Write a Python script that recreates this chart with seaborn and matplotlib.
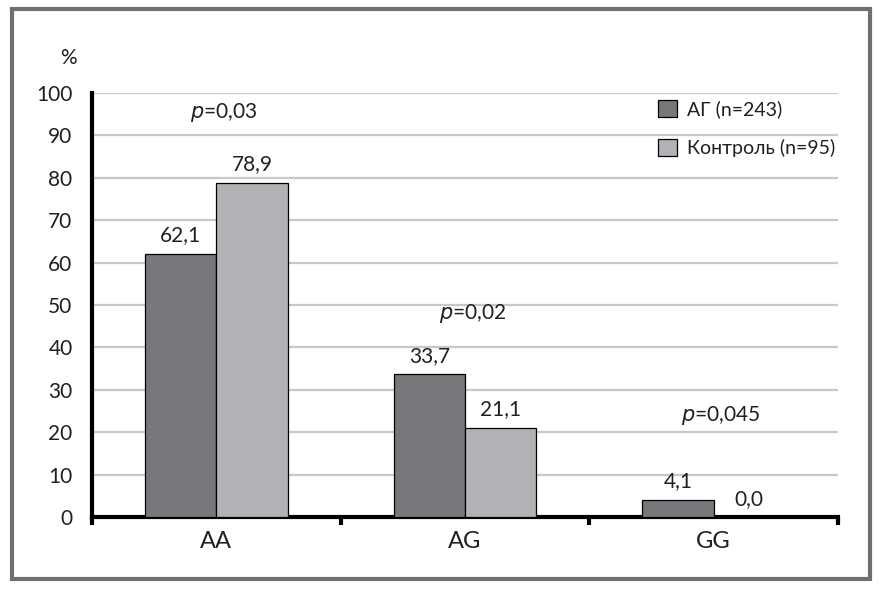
import numpy as np
import pandas as pd
import seaborn as sns
import matplotlib.pyplot as plt
from matplotlib.patches import Rectangle

# data
genotypes = ["AA", "AG", "GG"]
ag_vals = [62.1, 33.7, 4.1]
ctrl_vals = [78.9, 21.1, 0.0]
groups = ["АГ (n=243)", "Контроль (n=95)"]
p_texts = ["0,03", "0,02", "0,045"]
p_y = [95.5, 48, 24]

df = pd.DataFrame({
    "genotype": genotypes * 2,
    "group": [groups[0]] * 3 + [groups[1]] * 3,
    "value": ag_vals + ctrl_vals,
})

sns.set_style("white")
plt.rcParams["font.family"] = ["Lato", "DejaVu Sans"]
txt_col = "#231f20"

fig = plt.figure(figsize=(8.81, 5.89), dpi=100)
ax = fig.add_axes([0.1044, 0.1222, 0.8468, 0.7198])

sns.barplot(data=df, x="genotype", y="value", hue="group",
            palette=["#77787b", "#b1b2b5"], width=0.573,
            edgecolor="black", linewidth=0.9, ax=ax, zorder=3)

for cont in ax.containers:
    labs = [f"{v:.1f}".replace(".", ",") for v in cont.datavalues]
    ax.bar_label(cont, labels=labs, padding=6, fontsize=15, color=txt_col)

for i, (pt, py) in enumerate(zip(p_texts, p_y)):
    ax.text(i + 0.03, py, f"$\\it{{p}}$=" + pt, ha="center", va="center",
            fontsize=15, color=txt_col)

ax.set_ylim(0, 100)
ax.set_xlim(-0.5, 2.5)
ax.set_yticks(np.arange(0, 101, 10))
ax.yaxis.grid(True, color="#c8c8c8", linewidth=1.6, zorder=0)
ax.set_axisbelow(True)
ax.set_xlabel("")
ax.set_ylabel("")
ax.tick_params(axis="y", length=0, labelsize=15, labelcolor=txt_col, pad=14)
ax.tick_params(axis="x", which="major", length=0, labelsize=17,
               labelcolor=txt_col, pad=10)
ax.set_xticks([-0.5, 0.5, 1.5, 2.5], minor=True)
ax.tick_params(axis="x", which="minor", bottom=True, direction="out",
               length=6, width=3, color="black")

sns.despine(ax=ax)
for s in ["left", "bottom"]:
    ax.spines[s].set_linewidth(3)
    ax.spines[s].set_color("black")

ax.text(-0.032, 1.06, "%", transform=ax.transAxes, ha="center",
        va="bottom", fontsize=15, color=txt_col)

leg = ax.legend(loc="upper right", bbox_to_anchor=(1.02, 1.025), frameon=False,
                fontsize=14, handlelength=1.0, handleheight=1.0,
                labelspacing=1.05, handletextpad=0.5)
for t in leg.get_texts():
    t.set_color(txt_col)

fig.patches.append(Rectangle((0.014, 0.017), 0.973, 0.967,
                             transform=fig.transFigure, fill=False,
                             edgecolor="#707070", linewidth=3))

fig.savefig("out.png", dpi=100)
